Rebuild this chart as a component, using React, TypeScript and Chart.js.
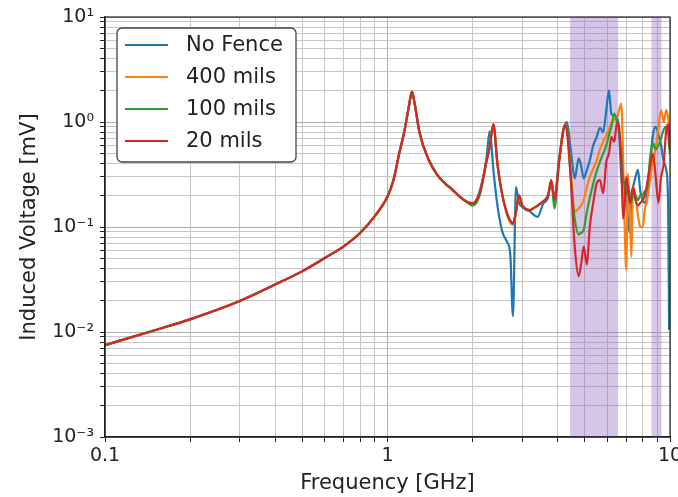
import React, { useEffect, useRef } from 'react';
import { Chart, registerables } from 'chart.js';

Chart.register(...registerables);

// Shared response below 2 GHz (all four curves coincide there)
const lowFreqGHz = [0.1, 0.15, 0.2, 0.3, 0.4, 0.5, 0.6, 0.7, 0.8, 0.9, 1.0, 1.05, 1.1, 1.15, 1.19, 1.22, 1.25, 1.3, 1.4, 1.5, 1.6, 1.7, 1.8, 1.9];
const lowVoltage = [0.0075, 0.0104, 0.0132, 0.0197, 0.0283, 0.038, 0.0507, 0.0655, 0.0877, 0.126, 0.195, 0.28, 0.5, 0.84, 1.4, 1.95, 1.45, 0.78, 0.435, 0.314, 0.26, 0.226, 0.195, 0.175];

// 2 GHz .. 10 GHz, where the fence spacing matters
const highFreqGHz = [
  2.0, 2.12, 2.24, 2.3, 2.37, 2.45, 2.55, 2.65, 2.72, 2.78,
  2.85, 2.92, 3.0, 3.1, 3.2, 3.3, 3.4, 3.55, 3.7, 3.8,
  3.9, 4.05, 4.25, 4.32, 4.45, 4.6, 4.75, 4.85, 4.95, 5.08,
  5.2, 5.35, 5.5, 5.65, 5.8, 5.95, 6.08, 6.2, 6.35, 6.5,
  6.6, 6.72, 6.82, 6.9, 7.0, 7.1, 7.2, 7.3, 7.4, 7.55,
  7.7, 7.85, 8.0, 8.15, 8.3, 8.5, 8.7, 8.9, 9.1, 9.3,
  9.5, 9.7, 9.85, 9.93, 10.0,
];
const noFenceHigh = [
  0.168, 0.22, 0.45, 0.82, 0.35, 0.16, 0.09, 0.072, 0.055, 0.0142,
  0.24, 0.17, 0.155, 0.145, 0.14, 0.13, 0.125, 0.165, 0.19, 0.27,
  0.19, 0.45, 0.95, 1.0, 0.55, 0.29, 0.45, 0.38, 0.29, 0.35,
  0.43, 0.6, 0.72, 0.88, 0.8, 1.3, 2.0, 1.2, 1.15, 1.1,
  0.8, 0.3, 0.22, 0.2, 0.18, 0.12, 0.088, 0.2, 0.24, 0.3,
  0.35, 0.22, 0.18, 0.17, 0.2, 0.4, 0.75, 0.9, 0.75, 0.6,
  0.42, 0.35, 0.16, 0.0105, null,
];
const mils400High = [
  0.168, 0.21, 0.42, 0.58, 0.95, 0.4, 0.2, 0.13, 0.11, 0.105,
  0.14, 0.2, 0.16, 0.148, 0.145, 0.152, 0.16, 0.175, 0.2, 0.28,
  0.18, 0.42, 0.95, 0.85, 0.35, 0.14, 0.15, 0.16, 0.18, 0.24,
  0.3, 0.36, 0.43, 0.55, 0.65, 0.75, 0.85, 0.97, 1.05, 1.1,
  1.3, 1.5, 0.5, 0.12, 0.039, 0.32, 0.15, 0.052, 0.24, 0.2,
  0.13, 0.1, 0.1, 0.15, 0.18, 0.28, 0.43, 0.55, 0.9, 1.3,
  1.0, 1.3, 1.1, 0.9, 0.7,
];
const mils100High = [
  0.16, 0.2, 0.42, 0.58, 0.95, 0.4, 0.2, 0.135, 0.115, 0.108,
  0.14, 0.2, 0.16, 0.148, 0.145, 0.152, 0.16, 0.175, 0.2, 0.27,
  0.15, 0.42, 0.93, 0.9, 0.3, 0.12, 0.085, 0.088, 0.094, 0.14,
  0.19, 0.26, 0.34, 0.42, 0.5, 0.6, 0.75, 0.9, 1.2, 1.0,
  0.9, 0.5, 0.3, 0.25, 0.2, 0.25, 0.2, 0.17, 0.22, 0.2,
  0.18, 0.2, 0.2, 0.22, 0.23, 0.45, 0.63, 0.55, 0.6, 0.7,
  0.85, 0.9, 0.8, 0.6, 0.5,
];
const mils20High = [
  0.168, 0.21, 0.42, 0.58, 0.95, 0.4, 0.2, 0.135, 0.115, 0.108,
  0.14, 0.2, 0.16, 0.148, 0.145, 0.152, 0.16, 0.175, 0.2, 0.28,
  0.18, 0.42, 0.93, 0.8, 0.3, 0.065, 0.034, 0.045, 0.065, 0.044,
  0.1, 0.17, 0.26, 0.28, 0.21, 0.42, 0.5, 0.72, 0.65, 1.0,
  0.85, 0.43, 0.12, 0.15, 0.3, 0.24, 0.17, 0.19, 0.24, 0.18,
  0.16, 0.17, 0.18, 0.2, 0.26, 0.38, 0.5, 0.3, 0.17, 0.3,
  0.4, 0.85, 0.95, 0.7, 0.55,
];

const seriesLabels = ['No Fence', '400 mils', '100 mils', '20 mils'];
const seriesColors = ['#1f77b4', '#ff7f0e', '#2ca02c', '#d62728'];
const seriesHigh = [noFenceHigh, mils400High, mils100High, mils20High];

// Highlighted frequency bands (GHz)
const bandStartGHz = [4.43, 8.6];
const bandEndGHz = [6.55, 9.33];

const xRange = [0.1, 10];
const yRange = [0.001, 10];
const xTickLabels: Record<string, string> = { '-1': '0.1', '0': '1', '1': '10' };
const superDigits: Record<string, string> = { '-': '\u207B', '0': '\u2070', '1': '\u00B9', '2': '\u00B2', '3': '\u00B3' };

const FONT = "'DejaVu Sans', sans-serif";
const INK = '#222222';

const isDecade = (v: number) => Math.abs(Math.log10(v) - Math.round(Math.log10(v))) < 1e-6;

const logTicks = (min: number, max: number) => {
  const out: { value: number }[] = [];
  const e0 = Math.floor(Math.log10(min));
  const e1 = Math.ceil(Math.log10(max));
  for (let e = e0; e <= e1; e++) {
    for (let m = 1; m <= 9; m++) {
      const v = m * Math.pow(10, e);
      if (v >= min * 0.9999 && v <= max * 1.0001) out.push({ value: v });
    }
  }
  return out;
};

// Translucent bands over the grid, beneath the curves
const bandsPlugin = {
  id: 'bands',
  beforeDatasetsDraw(chart: any) {
    const { ctx, chartArea: a, scales } = chart;
    ctx.save();
    ctx.fillStyle = 'rgba(148, 103, 189, 0.38)';
    bandStartGHz.forEach((s, i) => {
      const x0 = scales.x.getPixelForValue(s);
      const x1 = scales.x.getPixelForValue(bandEndGHz[i]);
      ctx.fillRect(x0, a.top, x1 - x0, a.bottom - a.top);
    });
    ctx.restore();
  },
};

const frameLegendPlugin = {
  id: 'frameLegend',
  afterDraw(chart: any) {
    const { ctx, chartArea: a } = chart;
    ctx.save();
    // axes frame
    ctx.strokeStyle = INK;
    ctx.lineWidth = 1.2;
    ctx.strokeRect(a.left, a.top, a.right - a.left, a.bottom - a.top);

    // legend box
    const lx = a.left + 12;
    const ly = a.top + 11;
    const lw = 179;
    const lh = 134;
    const r = 5;
    ctx.beginPath();
    ctx.moveTo(lx + r, ly);
    ctx.arcTo(lx + lw, ly, lx + lw, ly + lh, r);
    ctx.arcTo(lx + lw, ly + lh, lx, ly + lh, r);
    ctx.arcTo(lx, ly + lh, lx, ly, r);
    ctx.arcTo(lx, ly, lx + lw, ly, r);
    ctx.closePath();
    ctx.fillStyle = '#ffffff';
    ctx.fill();
    ctx.strokeStyle = '#444444';
    ctx.lineWidth = 1.3;
    ctx.stroke();

    ctx.font = `21px ${FONT}`;
    ctx.textBaseline = 'middle';
    ctx.textAlign = 'left';
    chart.data.datasets.forEach((ds: any, i: number) => {
      const y = ly + 17 + i * 32;
      ctx.strokeStyle = ds.borderColor;
      ctx.lineWidth = 2.2;
      ctx.beginPath();
      ctx.moveTo(lx + 8, y);
      ctx.lineTo(lx + 51, y);
      ctx.stroke();
      ctx.fillStyle = INK;
      ctx.fillText(ds.label, lx + 69, y + 1);
    });
    ctx.restore();
  },
};

const gridColor = (ctx: any) => {
  const v = ctx.tick?.value;
  return v !== undefined && isDecade(v) ? '#b0b0b0' : '#c6c6c6';
};

export default function App() {
  const canvasRef = useRef<HTMLCanvasElement | null>(null);

  useEffect(() => {
    if (!canvasRef.current) return;
    const datasets = seriesLabels.map((label, s) => {
      const pts = [
        ...lowFreqGHz.map((f, i) => ({ x: f, y: lowVoltage[i] })),
        ...highFreqGHz.map((f, i) => ({ x: f, y: seriesHigh[s][i] })),
      ].filter((p) => p.y !== null && p.y !== undefined);
      return {
        label,
        data: pts,
        borderColor: seriesColors[s],
        backgroundColor: seriesColors[s],
        borderWidth: 2.2,
        pointRadius: 0,
        fill: false,
        cubicInterpolationMode: 'monotone' as const,
        order: seriesLabels.length - s,
      };
    });

    const chart = new Chart(canvasRef.current, {
      type: 'line',
      data: { datasets },
      plugins: [bandsPlugin, frameLegendPlugin],
      options: {
        animation: false,
        responsive: false,
        devicePixelRatio: 1,
        layout: { padding: { left: 13, top: 17, right: 8, bottom: 0 } },
        plugins: { legend: { display: false }, tooltip: { enabled: false } },
        scales: {
          x: {
            type: 'logarithmic',
            min: xRange[0],
            max: xRange[1],
            afterBuildTicks: (scale: any) => {
              scale.ticks = logTicks(xRange[0], xRange[1]);
            },
            afterFit: (scale: any) => {
              scale.height = 60;
              scale.paddingLeft = 0;
              scale.paddingRight = 0;
            },
            grid: { color: gridColor, lineWidth: 1, tickLength: 5, tickColor: INK, drawTicks: true },
            border: { color: INK, width: 1.2 },
            ticks: {
              autoSkip: false,
              maxRotation: 0,
              minRotation: 0,
              padding: 3,
              color: INK,
              font: { family: FONT, size: 19 },
              callback: (value: any) => {
                const v = Number(value);
                if (!isDecade(v)) return '';
                return xTickLabels[String(Math.round(Math.log10(v)))] ?? '';
              },
            },
            title: {
              display: true,
              text: 'Frequency [GHz]',
              color: INK,
              font: { family: FONT, size: 21 },
              padding: { top: 0, bottom: 1 },
            },
          },
          y: {
            type: 'logarithmic',
            min: yRange[0],
            max: yRange[1],
            afterBuildTicks: (scale: any) => {
              scale.ticks = logTicks(yRange[0], yRange[1]);
            },
            afterFit: (scale: any) => {
              scale.width = 92;
              scale.paddingTop = 0;
              scale.paddingBottom = 0;
            },
            grid: { color: gridColor, lineWidth: 1, tickLength: 5, tickColor: INK, drawTicks: true },
            border: { color: INK, width: 1.2 },
            ticks: {
              autoSkip: false,
              padding: 6,
              color: INK,
              font: { family: FONT, size: 19 },
              callback: (value: any) => {
                const v = Number(value);
                if (!isDecade(v)) return '';
                const e = String(Math.round(Math.log10(v)));
                return '10' + e.split('').map((c) => superDigits[c] ?? c).join('');
              },
            },
            title: {
              display: true,
              text: 'Induced Voltage [mV]',
              color: INK,
              font: { family: FONT, size: 21 },
              padding: { top: 4, bottom: 0 },
            },
          },
        },
      } as any,
    });
    return () => chart.destroy();
  }, []);

  return (
    <div style={{ position: 'absolute', left: 0, top: 0, width: 678, height: 497, background: '#ffffff' }}>
      <canvas ref={canvasRef} width={678} height={497} style={{ display: 'block', width: 678, height: 497 }} />
    </div>
  );
}
